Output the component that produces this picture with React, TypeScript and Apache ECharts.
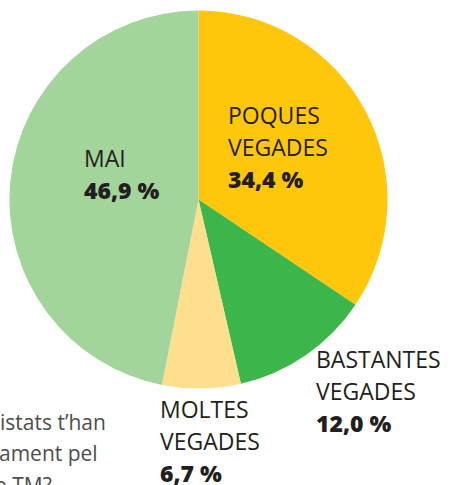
import React, { useEffect, useRef } from "react";
import * as echarts from "echarts";

const categories = ["POQUES VEGADES", "BASTANTES VEGADES", "MOLTES VEGADES", "MAI"];
const values = [34.4, 12.0, 6.7, 46.9];
const colors = ["#FFC70B", "#3CB54A", "#FDDF8E", "#A3D49B"];
const labelPos = [
  [228, 99],
  [316, 343],
  [160, 393],
  [84, 142],
];
const noteLines = ["istats t\u2019han", "ament pel", "e TM?"];

const FONT = '"Open Sans", "Noto Sans", sans-serif';

export default function App() {
  const ref = useRef<HTMLDivElement>(null);
  useEffect(() => {
    document.body.style.margin = "0";
    const chart = echarts.init(ref.current!, undefined, { renderer: "svg" });
    const noteX = [0, -1, -5];
    const noteY = [422, 453, 485];
    chart.setOption({
      animation: false,
      backgroundColor: "#ffffff",
      series: [
        {
          type: "pie",
          center: [198.5, 199.5],
          radius: 189,
          startAngle: 90,
          clockwise: true,
          avoidLabelOverlap: false,
          silent: true,
          data: categories.map((c, i) => ({
            name: c,
            value: values[i],
            itemStyle: { color: colors[i] },
          })),
          label: {
            show: true,
            position: "inside",
            formatter: (p: any) => {
              const words = String(p.name).split(" ").map((w) => `{n|${w}}`);
              const pct = values[p.dataIndex].toFixed(1).replace(".", ",") + " %";
              return words.join("\n") + `\n{p|${pct}}`;
            },
            rich: {
              n: { fontFamily: FONT, fontSize: 23, fontWeight: 500, color: "#231F20", lineHeight: 32 },
              p: { fontFamily: FONT, fontSize: 23, fontWeight: 800, color: "#231F20", lineHeight: 32 },
            },
          },
          labelLine: { show: false },
          labelLayout: (params: any) => ({
            x: labelPos[params.dataIndex][0],
            y: labelPos[params.dataIndex][1],
            align: "left",
            verticalAlign: "top",
          }),
        },
      ],
      graphic: noteLines.map((t, i) => ({
        type: "text",
        x: noteX[i],
        y: noteY[i],
        style: {
          text: t,
          fontFamily: FONT,
          fontSize: 21,
          fill: "#4d4d4d",
          align: "left",
          verticalAlign: "middle",
        },
      })),
    });
    return () => chart.dispose();
  }, []);
  return (
    <div
      ref={ref}
      style={{ position: "fixed", left: 0, top: 0, width: 452, height: 485 }}
    />
  );
}
